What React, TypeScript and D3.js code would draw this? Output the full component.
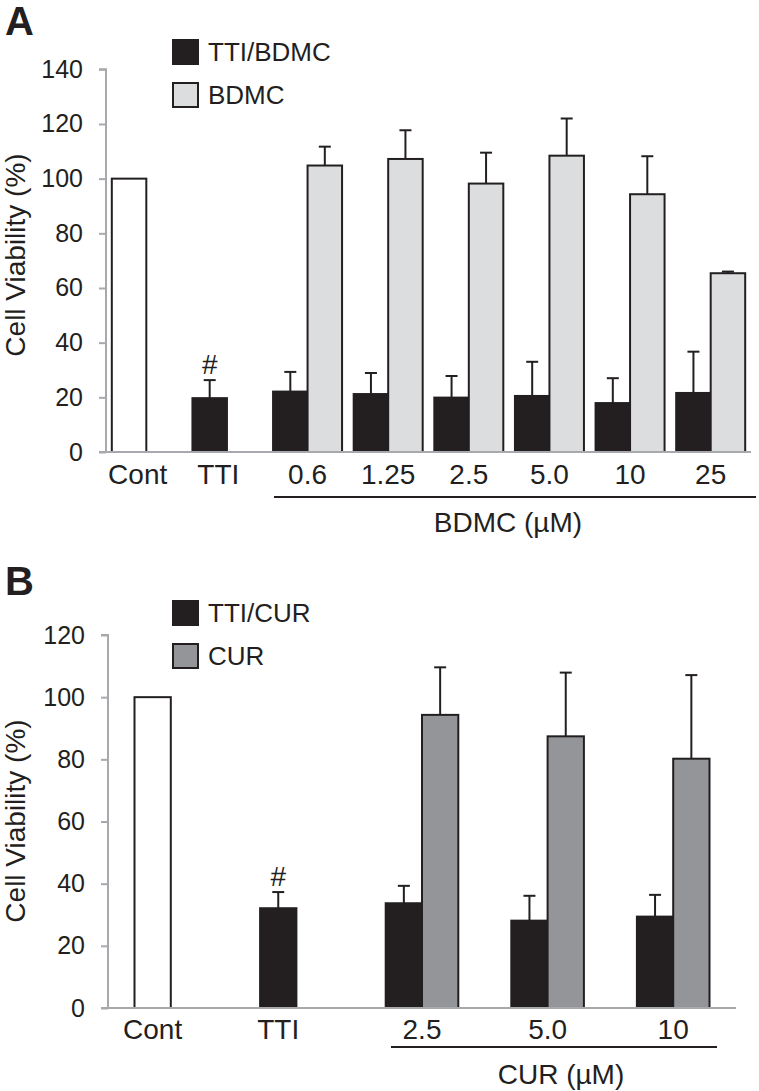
import React, { useEffect, useRef } from "react";
import * as d3 from "d3";

// ---------- Panel A data ----------
const catsA = ["Cont", "TTI", "0.6", "1.25", "2.5", "5.0", "10", "25"];
const comboA = [100, 19.7, 22.1, 21.2, 19.9, 20.5, 17.9, 21.6]; // TTI/BDMC (Cont = control)
const comboErrA = [null, 26.3, 29.3, 28.9, 27.8, 33.0, 27.0, 36.7];
const singleA = [null, null, 104.8, 107.2, 98.2, 108.4, 94.3, 65.4]; // BDMC
const singleErrA = [null, null, 111.7, 117.7, 109.5, 122.0, 108.2, 66.0];
const ticksA = [0, 20, 40, 60, 80, 100, 120, 140];
const legendA = ["TTI/BDMC", "BDMC"];

// ---------- Panel B data ----------
const catsB = ["Cont", "TTI", "2.5", "5.0", "10"];
const comboB = [100, 32.1, 33.7, 28.1, 29.4]; // TTI/CUR
const comboErrB = [null, 37.3, 39.3, 36.1, 36.4];
const singleB = [null, null, 94.3, 87.4, 80.2]; // CUR
const singleErrB = [null, null, 109.6, 107.9, 107.1];
const ticksB = [0, 20, 40, 60, 80, 100, 120];
const legendB = ["TTI/CUR", "CUR"];

const DARK = "#231f20";
const AXIS = "#a7a9ac";
const FONT = "'Liberation Sans', Arial, Helvetica, sans-serif";

type Panel = {
  letter: string;
  letterY: number;
  cats: string[];
  combo: (number | null)[];
  comboErr: (number | null)[];
  single: (number | null)[];
  singleErr: (number | null)[];
  ticks: number[];
  legend: string[];
  singleColor: string;
  x0: number;
  x1: number;
  yTop: number;
  yBottom: number;
  yMax: number;
  barW: number;
  labelShift: number;
  labelY: number;
  bracket: [number, number, number];
  groupLabel: string;
  groupLabelPos: [number, number];
  legendY: number;
  titleY: number;
};

function drawPanel(svg: d3.Selection<SVGSVGElement, unknown, null, undefined>, p: Panel) {
  const g = svg.append("g");
  const x = d3.scaleBand<string>().domain(p.cats).range([p.x0, p.x1]).paddingInner(0).paddingOuter(0);
  const y = d3.scaleLinear().domain([0, p.yMax]).range([p.yBottom, p.yTop]);
  const center = (c: string) => (x(c) as number) + x.bandwidth() / 2;

  // Panel letter
  g.append("text").attr("x", 5).attr("y", p.letterY).attr("font-family", FONT)
    .attr("font-weight", "bold").attr("font-size", 40).attr("fill", DARK).text(p.letter);

  // Y axis
  const yAxis = d3.axisLeft(y).tickValues(p.ticks).tickSize(7).tickPadding(16).tickFormat(d3.format("d"));
  const ya = g.append("g").attr("transform", `translate(${p.x0},0)`).call(yAxis);
  ya.select(".domain").attr("stroke", AXIS).attr("stroke-width", 2).attr("d", `M-7,${p.yTop}H0V${p.yBottom}`);
  ya.selectAll(".tick line").attr("stroke", AXIS).attr("stroke-width", 2);
  ya.selectAll(".tick text").attr("font-family", FONT).attr("font-size", 25).attr("fill", DARK);

  // Y title
  g.append("text").attr("transform", `translate(25,${p.titleY}) rotate(-90)`)
    .attr("text-anchor", "middle").attr("font-family", FONT).attr("font-size", 28).attr("fill", DARK)
    .text("Cell Viability (%)");

  // Bars: first series (black, Cont in white)
  p.cats.forEach((c, i) => {
    const cx = center(c);
    const v = p.combo[i];
    if (v != null) {
      const e = p.comboErr[i];
      if (e != null) {
        const bx = cx - p.barW / 2;
        g.append("line").attr("x1", bx).attr("x2", bx).attr("y1", y(v)).attr("y2", y(e)).attr("stroke", DARK).attr("stroke-width", 2);
        g.append("line").attr("x1", bx - 6).attr("x2", bx + 6).attr("y1", y(e)).attr("y2", y(e)).attr("stroke", DARK).attr("stroke-width", 2);
      }
      g.append("rect").attr("x", cx - p.barW).attr("y", y(v)).attr("width", p.barW).attr("height", y(0) - y(v))
        .attr("fill", i === 0 ? "#ffffff" : DARK).attr("stroke", DARK).attr("stroke-width", 2);
    }
    const s = p.single[i];
    if (s != null) {
      const e = p.singleErr[i];
      if (e != null) {
        const bx = cx + p.barW / 2;
        g.append("line").attr("x1", bx).attr("x2", bx).attr("y1", y(s)).attr("y2", y(e)).attr("stroke", DARK).attr("stroke-width", 2);
        g.append("line").attr("x1", bx - 6).attr("x2", bx + 6).attr("y1", y(e)).attr("y2", y(e)).attr("stroke", DARK).attr("stroke-width", 2);
      }
      g.append("rect").attr("x", cx).attr("y", y(s)).attr("width", p.barW).attr("height", y(0) - y(s))
        .attr("fill", p.singleColor).attr("stroke", DARK).attr("stroke-width", 2);
    }
  });

  // "#" marker above TTI
  const ti = p.cats.indexOf("TTI");
  g.append("text").attr("x", center("TTI") - p.barW / 2).attr("y", y(p.comboErr[ti] as number) - 6)
    .attr("text-anchor", "middle").attr("font-family", FONT).attr("font-size", 28).attr("fill", DARK).text("#");

  // X axis line
  g.append("line").attr("x1", p.x0 - 7).attr("x2", p.x1).attr("y1", y(0)).attr("y2", y(0))
    .attr("stroke", AXIS).attr("stroke-width", 2);

  // X labels
  p.cats.forEach((c, i) => {
    const shift = p.single[i] == null ? -p.barW * p.labelShift / 2 : 0;
    g.append("text").attr("x", center(c) + shift).attr("y", p.labelY).attr("text-anchor", "middle")
      .attr("font-family", FONT).attr("font-size", 28).attr("fill", DARK).text(c);
  });

  // Bracket and group label
  g.append("line").attr("x1", p.bracket[0]).attr("x2", p.bracket[1]).attr("y1", p.bracket[2]).attr("y2", p.bracket[2])
    .attr("stroke", DARK).attr("stroke-width", 2);
  g.append("text").attr("x", p.groupLabelPos[0]).attr("y", p.groupLabelPos[1]).attr("text-anchor", "middle")
    .attr("font-family", FONT).attr("font-size", 28).attr("fill", DARK).text(p.groupLabel);

  // Legend
  const colors = [DARK, p.singleColor];
  p.legend.forEach((name, i) => {
    const ly = p.legendY + i * 43;
    g.append("rect").attr("x", 173).attr("y", ly).attr("width", 25).attr("height", 24)
      .attr("fill", colors[i]).attr("stroke", DARK).attr("stroke-width", 2);
    g.append("text").attr("x", 208).attr("y", ly + 12).attr("dy", "0.35em")
      .attr("font-family", FONT).attr("font-size", 26).attr("fill", DARK).text(name);
  });
}

export default function App() {
  const ref = useRef<SVGSVGElement>(null);
  useEffect(() => {
    if (!ref.current) return;
    const svg = d3.select(ref.current);
    svg.selectAll("*").remove();
    drawPanel(svg, {
      letter: "A", letterY: 35,
      cats: catsA, combo: comboA, comboErr: comboErrA, single: singleA, singleErr: singleErrA,
      ticks: ticksA, legend: legendA, singleColor: "#dcddde",
      x0: 106, x1: 751, yTop: 69.3, yBottom: 452, yMax: 140, barW: 34.5,
      labelShift: 0.5, labelY: 484, bracket: [274, 756, 497],
      groupLabel: "BDMC (µM)", groupLabelPos: [508, 532], legendY: 40, titleY: 255,
    });
    drawPanel(svg, {
      letter: "B", letterY: 595,
      cats: catsB, combo: comboB, comboErr: comboErrB, single: singleB, singleErr: singleErrB,
      ticks: ticksB, legend: legendB, singleColor: "#939598",
      x0: 108, x1: 736, yTop: 635, yBottom: 1008, yMax: 120, barW: 36.3,
      labelShift: 1, labelY: 1039, bracket: [391, 717, 1047],
      groupLabel: "CUR (µM)", groupLabelPos: [561, 1084], legendY: 601, titleY: 821,
    });
  }, []);
  return (
    <svg ref={ref} width={759} height={1091} style={{ position: "absolute", left: 0, top: 0, background: "#fff" }} />
  );
}
